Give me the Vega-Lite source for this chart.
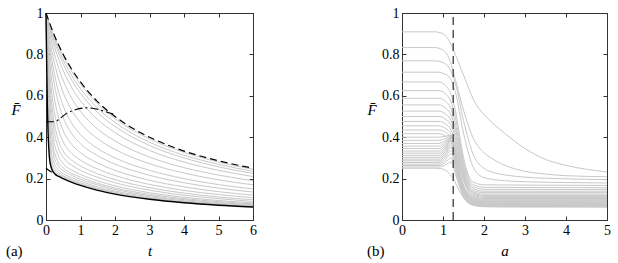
{
"$schema": "https://vega.github.io/schema/vega-lite/v6.json",
"padding": {"left": 5, "top": 5, "right": 5, "bottom": 2},
"config": {
 "font": "Liberation Serif",
 "view": {"stroke": "#333", "strokeWidth": 1},
 "title": {"font": "Liberation Serif"},
 "axis": {"labelFont": "Liberation Serif", "labelFontSize": 14, "labelColor": "#000", "titleFont": "Liberation Serif", "titleFontSize": 15, "titleFontStyle": "italic", "titleFontWeight": "normal", "titleColor": "#000", "domain": false, "grid": false, "tickColor": "#333", "tickSize": -4, "labelPadding": 7, "labelFlush": false, "labelOverlap": false},
 "concat": {"spacing": 109}
},
"datasets": {
 "ag": [
{"k":1,"t":0,"F":1},{"k":1,"t":0.05,"F":0.974},{"k":1,"t":0.1,"F":0.95},{"k":1,"t":0.2,"F":0.904},{"k":1,"t":0.35,"F":0.844},{"k":1,"t":0.5,"F":0.791},{"k":1,"t":0.75,"F":0.717},{"k":1,"t":1,"F":0.656},{"k":1,"t":1.5,"F":0.561},{"k":1,"t":2,"F":0.49},{"k":1,"t":3,"F":0.392},{"k":1,"t":4,"F":0.327},{"k":1,"t":5,"F":0.28},{"k":1,"t":6,"F":0.245},
{"k":2,"t":0,"F":1},{"k":2,"t":0.05,"F":0.971},{"k":2,"t":0.1,"F":0.944},{"k":2,"t":0.2,"F":0.894},{"k":2,"t":0.35,"F":0.829},{"k":2,"t":0.5,"F":0.773},{"k":2,"t":0.75,"F":0.696},{"k":2,"t":1,"F":0.634},{"k":2,"t":1.5,"F":0.54},{"k":2,"t":2,"F":0.471},{"k":2,"t":3,"F":0.376},{"k":2,"t":4,"F":0.313},{"k":2,"t":5,"F":0.269},{"k":2,"t":6,"F":0.235},
{"k":3,"t":0,"F":1},{"k":3,"t":0.05,"F":0.967},{"k":3,"t":0.1,"F":0.937},{"k":3,"t":0.2,"F":0.882},{"k":3,"t":0.35,"F":0.812},{"k":3,"t":0.5,"F":0.753},{"k":3,"t":0.75,"F":0.674},{"k":3,"t":1,"F":0.612},{"k":3,"t":1.5,"F":0.518},{"k":3,"t":2,"F":0.452},{"k":3,"t":3,"F":0.36},{"k":3,"t":4,"F":0.3},{"k":3,"t":5,"F":0.257},{"k":3,"t":6,"F":0.225},
{"k":4,"t":0,"F":1},{"k":4,"t":0.05,"F":0.961},{"k":4,"t":0.1,"F":0.926},{"k":4,"t":0.2,"F":0.863},{"k":4,"t":0.35,"F":0.784},{"k":4,"t":0.5,"F":0.721},{"k":4,"t":0.75,"F":0.638},{"k":4,"t":1,"F":0.576},{"k":4,"t":1.5,"F":0.485},{"k":4,"t":2,"F":0.422},{"k":4,"t":3,"F":0.336},{"k":4,"t":4,"F":0.28},{"k":4,"t":5,"F":0.24},{"k":4,"t":6,"F":0.21},
{"k":5,"t":0,"F":1},{"k":5,"t":0.05,"F":0.952},{"k":5,"t":0.1,"F":0.908},{"k":5,"t":0.2,"F":0.832},{"k":5,"t":0.35,"F":0.742},{"k":5,"t":0.5,"F":0.673},{"k":5,"t":0.75,"F":0.587},{"k":5,"t":1,"F":0.525},{"k":5,"t":1.5,"F":0.439},{"k":5,"t":2,"F":0.382},{"k":5,"t":3,"F":0.304},{"k":5,"t":4,"F":0.253},{"k":5,"t":5,"F":0.217},{"k":5,"t":6,"F":0.19},
{"k":6,"t":0,"F":1},{"k":6,"t":0.05,"F":0.938},{"k":6,"t":0.1,"F":0.884},{"k":6,"t":0.2,"F":0.792},{"k":6,"t":0.35,"F":0.69},{"k":6,"t":0.5,"F":0.615},{"k":6,"t":0.75,"F":0.529},{"k":6,"t":1,"F":0.47},{"k":6,"t":1.5,"F":0.392},{"k":6,"t":2,"F":0.341},{"k":6,"t":3,"F":0.272},{"k":6,"t":4,"F":0.227},{"k":6,"t":5,"F":0.194},{"k":6,"t":6,"F":0.17},
{"k":7,"t":0,"F":1},{"k":7,"t":0.05,"F":0.921},{"k":7,"t":0.1,"F":0.853},{"k":7,"t":0.2,"F":0.744},{"k":7,"t":0.35,"F":0.628},{"k":7,"t":0.5,"F":0.55},{"k":7,"t":0.75,"F":0.466},{"k":7,"t":1,"F":0.413},{"k":7,"t":1.5,"F":0.345},{"k":7,"t":2,"F":0.3},{"k":7,"t":3,"F":0.24},{"k":7,"t":4,"F":0.2},{"k":7,"t":5,"F":0.171},{"k":7,"t":6,"F":0.15},
{"k":8,"t":0,"F":1},{"k":8,"t":0.05,"F":0.902},{"k":8,"t":0.1,"F":0.821},{"k":8,"t":0.2,"F":0.696},{"k":8,"t":0.35,"F":0.572},{"k":8,"t":0.5,"F":0.494},{"k":8,"t":0.75,"F":0.416},{"k":8,"t":1,"F":0.369},{"k":8,"t":1.5,"F":0.31},{"k":8,"t":2,"F":0.27},{"k":8,"t":3,"F":0.216},{"k":8,"t":4,"F":0.18},{"k":8,"t":5,"F":0.154},{"k":8,"t":6,"F":0.135},
{"k":9,"t":0,"F":1},{"k":9,"t":0.05,"F":0.877},{"k":9,"t":0.1,"F":0.778},{"k":9,"t":0.2,"F":0.634},{"k":9,"t":0.35,"F":0.505},{"k":9,"t":0.5,"F":0.431},{"k":9,"t":0.75,"F":0.364},{"k":9,"t":1,"F":0.325},{"k":9,"t":1.5,"F":0.275},{"k":9,"t":2,"F":0.24},{"k":9,"t":3,"F":0.192},{"k":9,"t":4,"F":0.16},{"k":9,"t":5,"F":0.137},{"k":9,"t":6,"F":0.12},
{"k":10,"t":0,"F":1},{"k":10,"t":0.05,"F":0.847},{"k":10,"t":0.1,"F":0.73},{"k":10,"t":0.2,"F":0.572},{"k":10,"t":0.35,"F":0.443},{"k":10,"t":0.5,"F":0.377},{"k":10,"t":0.75,"F":0.321},{"k":10,"t":1,"F":0.289},{"k":10,"t":1.5,"F":0.246},{"k":10,"t":2,"F":0.215},{"k":10,"t":3,"F":0.172},{"k":10,"t":4,"F":0.143},{"k":10,"t":5,"F":0.123},{"k":10,"t":6,"F":0.108},
{"k":11,"t":0,"F":1},{"k":11,"t":0.05,"F":0.816},{"k":11,"t":0.1,"F":0.682},{"k":11,"t":0.2,"F":0.514},{"k":11,"t":0.35,"F":0.39},{"k":11,"t":0.5,"F":0.333},{"k":11,"t":0.75,"F":0.288},{"k":11,"t":1,"F":0.261},{"k":11,"t":1.5,"F":0.223},{"k":11,"t":2,"F":0.195},{"k":11,"t":3,"F":0.156},{"k":11,"t":4,"F":0.13},{"k":11,"t":5,"F":0.111},{"k":11,"t":6,"F":0.098},
{"k":12,"t":0,"F":1},{"k":12,"t":0.05,"F":0.788},{"k":12,"t":0.1,"F":0.642},{"k":12,"t":0.2,"F":0.467},{"k":12,"t":0.35,"F":0.351},{"k":12,"t":0.5,"F":0.302},{"k":12,"t":0.75,"F":0.264},{"k":12,"t":1,"F":0.24},{"k":12,"t":1.5,"F":0.206},{"k":12,"t":2,"F":0.18},{"k":12,"t":3,"F":0.144},{"k":12,"t":4,"F":0.12},{"k":12,"t":5,"F":0.103},{"k":12,"t":6,"F":0.09},
{"k":13,"t":0,"F":1},{"k":13,"t":0.05,"F":0.753},{"k":13,"t":0.1,"F":0.592},{"k":13,"t":0.2,"F":0.415},{"k":13,"t":0.35,"F":0.312},{"k":13,"t":0.5,"F":0.272},{"k":13,"t":0.75,"F":0.241},{"k":13,"t":1,"F":0.22},{"k":13,"t":1.5,"F":0.189},{"k":13,"t":2,"F":0.165},{"k":13,"t":3,"F":0.132},{"k":13,"t":4,"F":0.11},{"k":13,"t":5,"F":0.094},{"k":13,"t":6,"F":0.083},
{"k":14,"t":0,"F":1},{"k":14,"t":0.05,"F":0.711},{"k":14,"t":0.1,"F":0.537},{"k":14,"t":0.2,"F":0.367},{"k":14,"t":0.35,"F":0.281},{"k":14,"t":0.5,"F":0.252},{"k":14,"t":0.75,"F":0.225},{"k":14,"t":1,"F":0.207},{"k":14,"t":1.5,"F":0.177},{"k":14,"t":2,"F":0.155},{"k":14,"t":3,"F":0.124},{"k":14,"t":4,"F":0.103},{"k":14,"t":5,"F":0.089},{"k":14,"t":6,"F":0.078},
{"k":15,"t":0,"F":1},{"k":15,"t":0.05,"F":0.67},{"k":15,"t":0.1,"F":0.488},{"k":15,"t":0.2,"F":0.329},{"k":15,"t":0.35,"F":0.261},{"k":15,"t":0.5,"F":0.238},{"k":15,"t":0.75,"F":0.215},{"k":15,"t":1,"F":0.197},{"k":15,"t":1.5,"F":0.169},{"k":15,"t":2,"F":0.148},{"k":15,"t":3,"F":0.118},{"k":15,"t":4,"F":0.098},{"k":15,"t":5,"F":0.084},{"k":15,"t":6,"F":0.074},
{"k":16,"t":0,"F":1},{"k":16,"t":0.05,"F":0.617},{"k":16,"t":0.1,"F":0.431},{"k":16,"t":0.2,"F":0.292},{"k":16,"t":0.35,"F":0.243},{"k":16,"t":0.5,"F":0.224},{"k":16,"t":0.75,"F":0.204},{"k":16,"t":1,"F":0.187},{"k":16,"t":1.5,"F":0.16},{"k":16,"t":2,"F":0.14},{"k":16,"t":3,"F":0.112},{"k":16,"t":4,"F":0.093},{"k":16,"t":5,"F":0.08},{"k":16,"t":6,"F":0.07},
{"k":17,"t":0,"F":1},{"k":17,"t":0.05,"F":0.572},{"k":17,"t":0.1,"F":0.387},{"k":17,"t":0.2,"F":0.268},{"k":17,"t":0.35,"F":0.23},{"k":17,"t":0.5,"F":0.214},{"k":17,"t":0.75,"F":0.195},{"k":17,"t":1,"F":0.179},{"k":17,"t":1.5,"F":0.153},{"k":17,"t":2,"F":0.134},{"k":17,"t":3,"F":0.107},{"k":17,"t":4,"F":0.089},{"k":17,"t":5,"F":0.077},{"k":17,"t":6,"F":0.067},
{"k":18,"t":0,"F":1},{"k":18,"t":0.05,"F":0.519},{"k":18,"t":0.1,"F":0.343},{"k":18,"t":0.2,"F":0.248},{"k":18,"t":0.35,"F":0.222},{"k":18,"t":0.5,"F":0.208},{"k":18,"t":0.75,"F":0.189},{"k":18,"t":1,"F":0.173},{"k":18,"t":1.5,"F":0.149},{"k":18,"t":2,"F":0.13},{"k":18,"t":3,"F":0.104},{"k":18,"t":4,"F":0.087},{"k":18,"t":5,"F":0.074},{"k":18,"t":6,"F":0.065}
 ],
 "ab": [
{"t":0,"F":1},{"t":0.02,"F":0.75},{"t":0.04,"F":0.55},{"t":0.06,"F":0.42},{"t":0.08,"F":0.35},{"t":0.1,"F":0.3},{"t":0.15,"F":0.255},{"t":0.2,"F":0.235},{"t":0.3,"F":0.217},{"t":0.4,"F":0.208},{"t":0.5,"F":0.2},{"t":0.75,"F":0.182},{"t":1,"F":0.167},{"t":1.5,"F":0.143},{"t":2,"F":0.125},{"t":3,"F":0.1},{"t":4,"F":0.083},{"t":5,"F":0.071},{"t":6,"F":0.0625}
 ],
 "ad": [
{"s":"u","t":0,"F":1},{"s":"u","t":0.25,"F":0.889},{"s":"u","t":0.5,"F":0.8},{"s":"u","t":0.75,"F":0.727},{"s":"u","t":1,"F":0.667},{"s":"u","t":1.5,"F":0.571},{"s":"u","t":2,"F":0.5},{"s":"u","t":2.5,"F":0.444},{"s":"u","t":3,"F":0.4},{"s":"u","t":3.5,"F":0.364},{"s":"u","t":4,"F":0.333},{"s":"u","t":4.5,"F":0.308},{"s":"u","t":5,"F":0.286},{"s":"u","t":5.5,"F":0.267},{"s":"u","t":6,"F":0.25},
{"s":"l","t":0,"F":0.25},{"s":"l","t":0.1,"F":0.238},{"s":"l","t":0.2,"F":0.227},{"s":"l","t":0.3,"F":0.217}
 ],
 "adc": [
{"t":0,"F":0.475},{"t":0.25,"F":0.475},{"t":0.4,"F":0.49},{"t":0.6,"F":0.515},{"t":0.85,"F":0.533},{"t":1.2,"F":0.542},{"t":1.5,"F":0.535},{"t":1.75,"F":0.522},{"t":1.95,"F":0.512}
 ],
 "bg": [
{"k":1,"a":0,"F":0.909},{"k":1,"a":0.8,"F":0.909},{"k":1,"a":1,"F":0.9},{"k":1,"a":1.15,"F":0.865},{"k":1,"a":1.3,"F":0.8},{"k":1,"a":1.5,"F":0.7},{"k":1,"a":1.8,"F":0.56},{"k":1,"a":2,"F":0.51},{"k":1,"a":2.5,"F":0.42},{"k":1,"a":3,"F":0.345},{"k":1,"a":3.5,"F":0.293},{"k":1,"a":4,"F":0.264},{"k":1,"a":4.5,"F":0.245},{"k":1,"a":5,"F":0.232},
{"k":2,"a":0,"F":0.833},{"k":2,"a":0.8,"F":0.833},{"k":2,"a":1,"F":0.82},{"k":2,"a":1.15,"F":0.78},{"k":2,"a":1.3,"F":0.68},{"k":2,"a":1.5,"F":0.53},{"k":2,"a":1.75,"F":0.39},{"k":2,"a":2,"F":0.325},{"k":2,"a":2.25,"F":0.29},{"k":2,"a":2.5,"F":0.265},{"k":2,"a":3,"F":0.235},{"k":2,"a":3.5,"F":0.222},{"k":2,"a":4,"F":0.214},{"k":2,"a":5,"F":0.209},
{"k":3,"a":0,"F":0.769},{"k":3,"a":0.8,"F":0.769},{"k":3,"a":1,"F":0.76},{"k":3,"a":1.15,"F":0.735},{"k":3,"a":1.3,"F":0.66},{"k":3,"a":1.5,"F":0.48},{"k":3,"a":1.75,"F":0.31},{"k":3,"a":2,"F":0.25},{"k":3,"a":2.25,"F":0.228},{"k":3,"a":2.5,"F":0.218},{"k":3,"a":3,"F":0.207},{"k":3,"a":4,"F":0.199},{"k":3,"a":5,"F":0.195},
{"k":4,"a":0,"F":0.714},{"k":4,"a":0.9,"F":0.714},{"k":4,"a":1,"F":0.708},{"k":4,"a":1.15,"F":0.69},{"k":4,"a":1.3,"F":0.62},{"k":4,"a":1.5,"F":0.42},{"k":4,"a":1.75,"F":0.25},{"k":4,"a":2,"F":0.205},{"k":4,"a":2.5,"F":0.19},{"k":4,"a":3,"F":0.185},{"k":4,"a":4,"F":0.181},{"k":4,"a":5,"F":0.179},
{"k":5,"a":0,"F":0.667},{"k":5,"a":0.9,"F":0.667},{"k":5,"a":1.05,"F":0.652},{"k":5,"a":1.2,"F":0.607},{"k":5,"a":1.3,"F":0.532},{"k":5,"a":1.4,"F":0.417},{"k":5,"a":1.5,"F":0.302},{"k":5,"a":1.6,"F":0.227},{"k":5,"a":1.75,"F":0.182},{"k":5,"a":2,"F":0.17},{"k":5,"a":5,"F":0.167},
{"k":6,"a":0,"F":0.625},{"k":6,"a":0.9,"F":0.625},{"k":6,"a":1.05,"F":0.611},{"k":6,"a":1.2,"F":0.569},{"k":6,"a":1.3,"F":0.499},{"k":6,"a":1.4,"F":0.391},{"k":6,"a":1.5,"F":0.283},{"k":6,"a":1.6,"F":0.213},{"k":6,"a":1.75,"F":0.17},{"k":6,"a":2,"F":0.158},{"k":6,"a":5,"F":0.156},
{"k":7,"a":0,"F":0.588},{"k":7,"a":0.9,"F":0.588},{"k":7,"a":1.05,"F":0.575},{"k":7,"a":1.2,"F":0.535},{"k":7,"a":1.3,"F":0.469},{"k":7,"a":1.4,"F":0.368},{"k":7,"a":1.5,"F":0.266},{"k":7,"a":1.6,"F":0.2},{"k":7,"a":1.75,"F":0.16},{"k":7,"a":2,"F":0.148},{"k":7,"a":5,"F":0.147},
{"k":8,"a":0,"F":0.556},{"k":8,"a":0.9,"F":0.556},{"k":8,"a":1.05,"F":0.543},{"k":8,"a":1.2,"F":0.506},{"k":8,"a":1.3,"F":0.443},{"k":8,"a":1.4,"F":0.347},{"k":8,"a":1.5,"F":0.251},{"k":8,"a":1.6,"F":0.189},{"k":8,"a":1.75,"F":0.151},{"k":8,"a":2,"F":0.139},{"k":8,"a":5,"F":0.139},
{"k":9,"a":0,"F":0.526},{"k":9,"a":0.9,"F":0.526},{"k":9,"a":1.05,"F":0.514},{"k":9,"a":1.2,"F":0.479},{"k":9,"a":1.3,"F":0.42},{"k":9,"a":1.4,"F":0.329},{"k":9,"a":1.5,"F":0.238},{"k":9,"a":1.6,"F":0.179},{"k":9,"a":1.75,"F":0.143},{"k":9,"a":2,"F":0.132},{"k":9,"a":5,"F":0.132},
{"k":10,"a":0,"F":0.5},{"k":10,"a":0.9,"F":0.5},{"k":10,"a":1.05,"F":0.489},{"k":10,"a":1.2,"F":0.455},{"k":10,"a":1.3,"F":0.399},{"k":10,"a":1.4,"F":0.313},{"k":10,"a":1.5,"F":0.226},{"k":10,"a":1.6,"F":0.17},{"k":10,"a":1.75,"F":0.136},{"k":10,"a":2,"F":0.125},{"k":10,"a":5,"F":0.125},
{"k":11,"a":0,"F":0.476},{"k":11,"a":0.9,"F":0.476},{"k":11,"a":1.05,"F":0.465},{"k":11,"a":1.2,"F":0.433},{"k":11,"a":1.3,"F":0.38},{"k":11,"a":1.4,"F":0.298},{"k":11,"a":1.5,"F":0.215},{"k":11,"a":1.6,"F":0.162},{"k":11,"a":1.75,"F":0.13},{"k":11,"a":2,"F":0.119},{"k":11,"a":5,"F":0.119},
{"k":12,"a":0,"F":0.455},{"k":12,"a":0.9,"F":0.455},{"k":12,"a":1.05,"F":0.444},{"k":12,"a":1.2,"F":0.414},{"k":12,"a":1.3,"F":0.363},{"k":12,"a":1.4,"F":0.284},{"k":12,"a":1.5,"F":0.206},{"k":12,"a":1.6,"F":0.155},{"k":12,"a":1.75,"F":0.124},{"k":12,"a":2,"F":0.114},{"k":12,"a":5,"F":0.114},
{"k":13,"a":0,"F":0.435},{"k":13,"a":0.9,"F":0.435},{"k":13,"a":1.05,"F":0.425},{"k":13,"a":1.2,"F":0.396},{"k":13,"a":1.3,"F":0.347},{"k":13,"a":1.4,"F":0.272},{"k":13,"a":1.5,"F":0.197},{"k":13,"a":1.6,"F":0.148},{"k":13,"a":1.75,"F":0.119},{"k":13,"a":2,"F":0.109},{"k":13,"a":5,"F":0.109},
{"k":14,"a":0,"F":0.417},{"k":14,"a":0.9,"F":0.417},{"k":14,"a":1.05,"F":0.407},{"k":14,"a":1.2,"F":0.379},{"k":14,"a":1.3,"F":0.332},{"k":14,"a":1.4,"F":0.26},{"k":14,"a":1.5,"F":0.189},{"k":14,"a":1.6,"F":0.142},{"k":14,"a":1.75,"F":0.114},{"k":14,"a":2,"F":0.104},{"k":14,"a":5,"F":0.104},
{"k":15,"a":0,"F":0.4},{"k":15,"a":0.9,"F":0.4},{"k":15,"a":1.05,"F":0.404},{"k":15,"a":1.2,"F":0.41},{"k":15,"a":1.3,"F":0.333},{"k":15,"a":1.4,"F":0.24},{"k":15,"a":1.5,"F":0.168},{"k":15,"a":1.6,"F":0.131},{"k":15,"a":1.75,"F":0.109},{"k":15,"a":2,"F":0.1},{"k":15,"a":5,"F":0.1},
{"k":16,"a":0,"F":0.385},{"k":16,"a":0.9,"F":0.385},{"k":16,"a":1.05,"F":0.393},{"k":16,"a":1.2,"F":0.405},{"k":16,"a":1.3,"F":0.328},{"k":16,"a":1.4,"F":0.235},{"k":16,"a":1.5,"F":0.164},{"k":16,"a":1.6,"F":0.127},{"k":16,"a":1.75,"F":0.105},{"k":16,"a":2,"F":0.096},{"k":16,"a":5,"F":0.096},
{"k":17,"a":0,"F":0.37},{"k":17,"a":0.9,"F":0.37},{"k":17,"a":1.05,"F":0.382},{"k":17,"a":1.2,"F":0.4},{"k":17,"a":1.3,"F":0.323},{"k":17,"a":1.4,"F":0.231},{"k":17,"a":1.5,"F":0.16},{"k":17,"a":1.6,"F":0.123},{"k":17,"a":1.75,"F":0.102},{"k":17,"a":2,"F":0.093},{"k":17,"a":5,"F":0.093},
{"k":18,"a":0,"F":0.357},{"k":18,"a":0.9,"F":0.357},{"k":18,"a":1.05,"F":0.374},{"k":18,"a":1.2,"F":0.4},{"k":18,"a":1.3,"F":0.322},{"k":18,"a":1.4,"F":0.229},{"k":18,"a":1.5,"F":0.158},{"k":18,"a":1.6,"F":0.12},{"k":18,"a":1.75,"F":0.099},{"k":18,"a":2,"F":0.089},{"k":18,"a":5,"F":0.089},
{"k":19,"a":0,"F":0.345},{"k":19,"a":0.9,"F":0.345},{"k":19,"a":1.05,"F":0.365},{"k":19,"a":1.2,"F":0.395},{"k":19,"a":1.3,"F":0.318},{"k":19,"a":1.4,"F":0.225},{"k":19,"a":1.5,"F":0.154},{"k":19,"a":1.6,"F":0.117},{"k":19,"a":1.75,"F":0.095},{"k":19,"a":2,"F":0.086},{"k":19,"a":5,"F":0.086},
{"k":20,"a":0,"F":0.333},{"k":20,"a":0.9,"F":0.333},{"k":20,"a":1.05,"F":0.356},{"k":20,"a":1.2,"F":0.39},{"k":20,"a":1.3,"F":0.313},{"k":20,"a":1.4,"F":0.221},{"k":20,"a":1.5,"F":0.151},{"k":20,"a":1.6,"F":0.114},{"k":20,"a":1.75,"F":0.093},{"k":20,"a":2,"F":0.083},{"k":20,"a":5,"F":0.083},
{"k":21,"a":0,"F":0.323},{"k":21,"a":0.9,"F":0.323},{"k":21,"a":1.05,"F":0.348},{"k":21,"a":1.2,"F":0.385},{"k":21,"a":1.3,"F":0.309},{"k":21,"a":1.4,"F":0.218},{"k":21,"a":1.5,"F":0.148},{"k":21,"a":1.6,"F":0.111},{"k":21,"a":1.75,"F":0.09},{"k":21,"a":2,"F":0.081},{"k":21,"a":5,"F":0.081},
{"k":22,"a":0,"F":0.3125},{"k":22,"a":0.9,"F":0.3125},{"k":22,"a":1.05,"F":0.34},{"k":22,"a":1.2,"F":0.38},{"k":22,"a":1.3,"F":0.305},{"k":22,"a":1.4,"F":0.214},{"k":22,"a":1.5,"F":0.145},{"k":22,"a":1.6,"F":0.108},{"k":22,"a":1.75,"F":0.087},{"k":22,"a":2,"F":0.078},{"k":22,"a":5,"F":0.078},
{"k":23,"a":0,"F":0.303},{"k":23,"a":0.9,"F":0.303},{"k":23,"a":1.05,"F":0.33},{"k":23,"a":1.2,"F":0.37},{"k":23,"a":1.3,"F":0.297},{"k":23,"a":1.4,"F":0.208},{"k":23,"a":1.5,"F":0.141},{"k":23,"a":1.6,"F":0.105},{"k":23,"a":1.75,"F":0.085},{"k":23,"a":2,"F":0.076},{"k":23,"a":5,"F":0.076},
{"k":24,"a":0,"F":0.294},{"k":24,"a":0.9,"F":0.294},{"k":24,"a":1.05,"F":0.321},{"k":24,"a":1.2,"F":0.36},{"k":24,"a":1.3,"F":0.288},{"k":24,"a":1.4,"F":0.202},{"k":24,"a":1.5,"F":0.137},{"k":24,"a":1.6,"F":0.102},{"k":24,"a":1.75,"F":0.082},{"k":24,"a":2,"F":0.074},{"k":24,"a":5,"F":0.074},
{"k":25,"a":0,"F":0.286},{"k":25,"a":0.9,"F":0.286},{"k":25,"a":1.05,"F":0.311},{"k":25,"a":1.2,"F":0.35},{"k":25,"a":1.3,"F":0.28},{"k":25,"a":1.4,"F":0.197},{"k":25,"a":1.5,"F":0.133},{"k":25,"a":1.6,"F":0.099},{"k":25,"a":1.75,"F":0.08},{"k":25,"a":2,"F":0.071},{"k":25,"a":5,"F":0.071},
{"k":26,"a":0,"F":0.278},{"k":26,"a":0.9,"F":0.278},{"k":26,"a":1.05,"F":0.301},{"k":26,"a":1.2,"F":0.335},{"k":26,"a":1.3,"F":0.269},{"k":26,"a":1.4,"F":0.189},{"k":26,"a":1.5,"F":0.128},{"k":26,"a":1.6,"F":0.096},{"k":26,"a":1.75,"F":0.077},{"k":26,"a":2,"F":0.069},{"k":26,"a":5,"F":0.069},
{"k":27,"a":0,"F":0.27},{"k":27,"a":0.9,"F":0.27},{"k":27,"a":1.05,"F":0.29},{"k":27,"a":1.2,"F":0.32},{"k":27,"a":1.3,"F":0.257},{"k":27,"a":1.4,"F":0.181},{"k":27,"a":1.5,"F":0.123},{"k":27,"a":1.6,"F":0.093},{"k":27,"a":1.75,"F":0.075},{"k":27,"a":2,"F":0.068},{"k":27,"a":5,"F":0.068},
{"k":28,"a":0,"F":0.263},{"k":28,"a":0.9,"F":0.263},{"k":28,"a":1.05,"F":0.278},{"k":28,"a":1.2,"F":0.3},{"k":28,"a":1.3,"F":0.242},{"k":28,"a":1.4,"F":0.171},{"k":28,"a":1.5,"F":0.117},{"k":28,"a":1.6,"F":0.089},{"k":28,"a":1.75,"F":0.073},{"k":28,"a":2,"F":0.066},{"k":28,"a":5,"F":0.066},
{"k":29,"a":0,"F":0.256},{"k":29,"a":0.9,"F":0.256},{"k":29,"a":1.05,"F":0.266},{"k":29,"a":1.2,"F":0.28},{"k":29,"a":1.3,"F":0.226},{"k":29,"a":1.4,"F":0.161},{"k":29,"a":1.5,"F":0.112},{"k":29,"a":1.6,"F":0.086},{"k":29,"a":1.75,"F":0.071},{"k":29,"a":2,"F":0.064},{"k":29,"a":5,"F":0.064},
{"k":30,"a":0,"F":0.25},{"k":30,"a":0.8,"F":0.25},{"k":30,"a":0.95,"F":0.248},{"k":30,"a":1.1,"F":0.235},{"k":30,"a":1.25,"F":0.2},{"k":30,"a":1.4,"F":0.14},{"k":30,"a":1.55,"F":0.095},{"k":30,"a":1.7,"F":0.075},{"k":30,"a":2,"F":0.066},{"k":30,"a":2.5,"F":0.0635},{"k":30,"a":5,"F":0.0625}
 ],
 "bv": [{"a":1.25,"y0":0,"y1":1}]
},
"hconcat": [
 {
  "width": 207, "height": 207,
  "title": {"text": "(a)", "orient": "bottom", "anchor": "start", "frame": "bounds", "fontSize": 15, "fontWeight": "normal", "color": "#000", "offset": 0, "dx": -5, "dy": -14},
  "resolve": {"axis": {"x": "independent", "y": "independent"}},
  "layer": [
   {"data": {"name": "ag"}, "mark": {"type": "line", "interpolate": "monotone", "color": "#c8c8c8", "strokeWidth": 1},
    "encoding": {
     "x": {"field": "t", "type": "quantitative", "scale": {"domain": [0, 6], "nice": false}, "axis": {"orient": "bottom", "values": [0,1,2,3,4,5,6], "title": "t", "titlePadding": 6}},
     "y": {"field": "F", "type": "quantitative", "scale": {"domain": [0, 1], "nice": false}, "axis": {"orient": "left", "values": [0,0.2,0.4,0.6,0.8,1], "labelExpr": "'' + datum.value", "title": "F̄", "titleAngle": 0, "titlePadding": 10, "titleBaseline": "middle", "titleY": 96}},
     "detail": {"field": "k", "type": "nominal"}}},
   {"data": {"name": "ab"}, "mark": {"type": "line", "interpolate": "monotone", "color": "#000", "strokeWidth": 1.4},
    "encoding": {
     "x": {"field": "t", "type": "quantitative", "axis": {"orient": "top", "values": [0,1,2,3,4,5,6], "labels": false, "title": null}},
     "y": {"field": "F", "type": "quantitative", "axis": {"orient": "right", "values": [0,0.2,0.4,0.6,0.8,1], "labels": false, "title": null}}}},
   {"data": {"name": "ad"}, "mark": {"type": "line", "interpolate": "monotone", "color": "#000", "strokeWidth": 1.2, "strokeDash": [7, 4]},
    "encoding": {
     "x": {"field": "t", "type": "quantitative", "axis": null},
     "y": {"field": "F", "type": "quantitative", "axis": null},
     "detail": {"field": "s", "type": "nominal"}}},
   {"data": {"name": "adc"}, "mark": {"type": "line", "interpolate": "monotone", "color": "#000", "strokeWidth": 1.1, "strokeDash": [8, 3, 2, 3]},
    "encoding": {
     "x": {"field": "t", "type": "quantitative", "axis": null},
     "y": {"field": "F", "type": "quantitative", "axis": null}}}
  ]
 },
 {
  "width": 205, "height": 207,
  "title": {"text": "(b)", "orient": "bottom", "anchor": "start", "frame": "bounds", "fontSize": 15, "fontWeight": "normal", "color": "#000", "offset": 0, "dx": 0, "dy": -14},
  "resolve": {"axis": {"x": "independent", "y": "independent"}},
  "layer": [
   {"data": {"name": "bg"}, "mark": {"type": "line", "interpolate": "monotone", "color": "#c8c8c8", "strokeWidth": 1},
    "encoding": {
     "x": {"field": "a", "type": "quantitative", "scale": {"domain": [0, 5], "nice": false}, "axis": {"orient": "bottom", "values": [0,1,2,3,4,5], "title": "a", "titlePadding": 6}},
     "y": {"field": "F", "type": "quantitative", "scale": {"domain": [0, 1], "nice": false}, "axis": {"orient": "left", "values": [0,0.2,0.4,0.6,0.8,1], "labelExpr": "'' + datum.value", "title": "F̄", "titleAngle": 0, "titlePadding": 10, "titleBaseline": "middle", "titleY": 96}},
     "detail": {"field": "k", "type": "nominal"}}},
   {"data": {"name": "bv"}, "mark": {"type": "rule", "color": "#555", "strokeWidth": 1.5, "strokeDash": [8, 5]},
    "encoding": {
     "x": {"field": "a", "type": "quantitative", "axis": {"orient": "top", "values": [0,1,2,3,4,5], "labels": false, "title": null}},
     "y": {"field": "y0", "type": "quantitative", "axis": {"orient": "right", "values": [0,0.2,0.4,0.6,0.8,1], "labels": false, "title": null}},
     "y2": {"field": "y1"}}}
  ]
 }
]
}
